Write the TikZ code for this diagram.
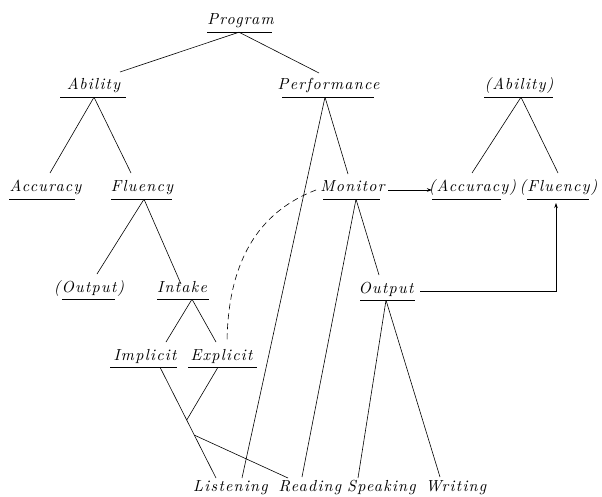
\documentclass[tikz,border=0pt]{standalone}
\usepackage{fontspec}
\newfontfamily\labfont[LetterSpace=8]{lmroman10-italic.otf}
\usetikzlibrary{calc,arrows.meta}
\begin{document}
\begin{tikzpicture}[x=1pt,y=-1pt,
  lab/.style={font=\labfont\fontsize{16}{18}\selectfont, inner sep=0pt, text height=11pt, text depth=7pt, anchor=base},
  con/.style={line width=0.6pt},
  ul/.style={line width=1.1pt},
  arr/.style={con,-{Stealth[length=5pt,width=3.5pt]}},
  dashcurve/.style={con, dash pattern=on 6pt off 4pt}]
\fill[white] (0,0) rectangle (602,497);
\useasboundingbox (0,0) rectangle (602,497);
% nodes
\node[lab] (program) at (240.5,25) {Program};
\node[lab] (ability) at (93.5,90) {Ability};
\node[lab] (perf) at (328.5,90) {Performance};
\node[lab] (abil2) at (519,90) {(Ability)};
\node[lab] (accuracy) at (45.5,192) {Accuracy};
\node[lab] (fluency) at (142,192) {Fluency};
\node[lab] (monitor) at (352.5,192) {Monitor};
\node[lab] (acc2) at (472.5,192) {(Accuracy)};
\node[lab] (flu2) at (558.5,192) {(Fluency)};
\node[lab] (out2) at (89,292) {(Output)};
\node[lab] (intake) at (182,292) {Intake};
\node[lab] (output) at (386,293) {Output};
\node[lab] (implicit) at (145,360) {Implicit};
\node[lab] (explicit) at (221.5,360) {Explicit};
\node[lab] (listening) at (230.5,491) {Listening};
\node[lab] (reading) at (310,491) {Reading};
\node[lab] (speaking) at (381.5,491) {Speaking};
\node[lab] (writing) at (456,491) {Writing};
% underlines
\foreach \n/\a/\b in {program/-33.5/31.5, ability/-33.5/32.5, perf/-46.5/45.5, abil2/-35/34,
  accuracy/-36.5/29.5, fluency/-31/30, monitor/-29.5/27.5, acc2/-40.5/28.5, flu2/-31.5/30.5,
  out2/-27/26, intake/-25/27, output/-26/29, implicit/-35/32, explicit/-33.5/35.5}
  \draw[ul] ($(\n.south)+(\a,0)$) -- ($(\n.south)+(\b,0)$);
% connectors
\draw[con] ($(program.south)+(-1.5,0)$) -- ($(ability.base)+(26.5,-18)$);
\draw[con] ($(program.south)+(-1.5,0)$) -- ($(perf.base)+(-9.5,-17)$);
\draw[con] ($(ability.south)+(0.5,0)$) -- ($(accuracy.base)+(4.5,-19)$);
\draw[con] ($(ability.south)+(0.5,0)$) -- ($(fluency.base)+(-11,-19)$);
\draw[con] ($(perf.south)+(-3.5,0)$) -- ($(monitor.base)+(-4.5,-18)$);
\draw[con] ($(perf.south)+(-3.5,0)$) -- ($(listening.base)+(11.5,-13)$);
\draw[con] ($(abil2.south)+(2,0)$) -- ($(acc2.base)+(-0.5,-19)$);
\draw[con] ($(abil2.south)+(2,0)$) -- ($(flu2.base)+(-0.5,-19)$);
\draw[con] ($(fluency.south)+(2,0)$) -- ($(out2.base)+(8,-18)$);
\draw[con] ($(fluency.south)+(2,0)$) -- ($(intake.base)+(-1,-8)$);
\draw[con] ($(monitor.south)+(3.5,0)$) -- ($(reading.base)+(-8,-14)$);
\draw[con] ($(monitor.south)+(3.5,0)$) -- ($(output.base)+(-7,-18)$);
\draw[con] ($(intake.south)+(10,0)$) -- ($(implicit.base)+(21,-18)$);
\draw[con] ($(intake.south)+(10,0)$) -- ($(explicit.base)+(-5.5,-18)$);
\coordinate (imA) at ($(implicit.south)+(15,0)$);
\coordinate (imB) at ($(listening.base)+(-14.5,-13)$);
\coordinate (j1) at ($(imA)!0.477!(imB)$);
\coordinate (j2) at ($(imA)!0.613!(imB)$);
\draw[con] (imA) -- (imB);
\draw[con] ($(explicit.south)+(-3.5,0)$) -- (j1);
\draw[con] (j2) -- ($(reading.base)+(-22,-13)$);
\draw[con] (output.south) -- ($(speaking.base)+(-23.5,-13)$);
\draw[con] (output.south) -- ($(writing.base)+(-16,-14)$);
\draw[arr] ($(monitor.base)+(35.5,-2)$) -- ($(acc2.base)+(-40.5,-2)$);
\draw[arr] ($(output.base)+(34,-2)$) -| ($(flu2.base)+(-2.5,11)$);
\draw[dashcurve] ($(monitor.base)+(-36.5,-2)$) .. controls +(-58,22) and +(1,-80) .. ($(explicit.base)+(5.5,-18)$);
\end{tikzpicture}
\end{document}
